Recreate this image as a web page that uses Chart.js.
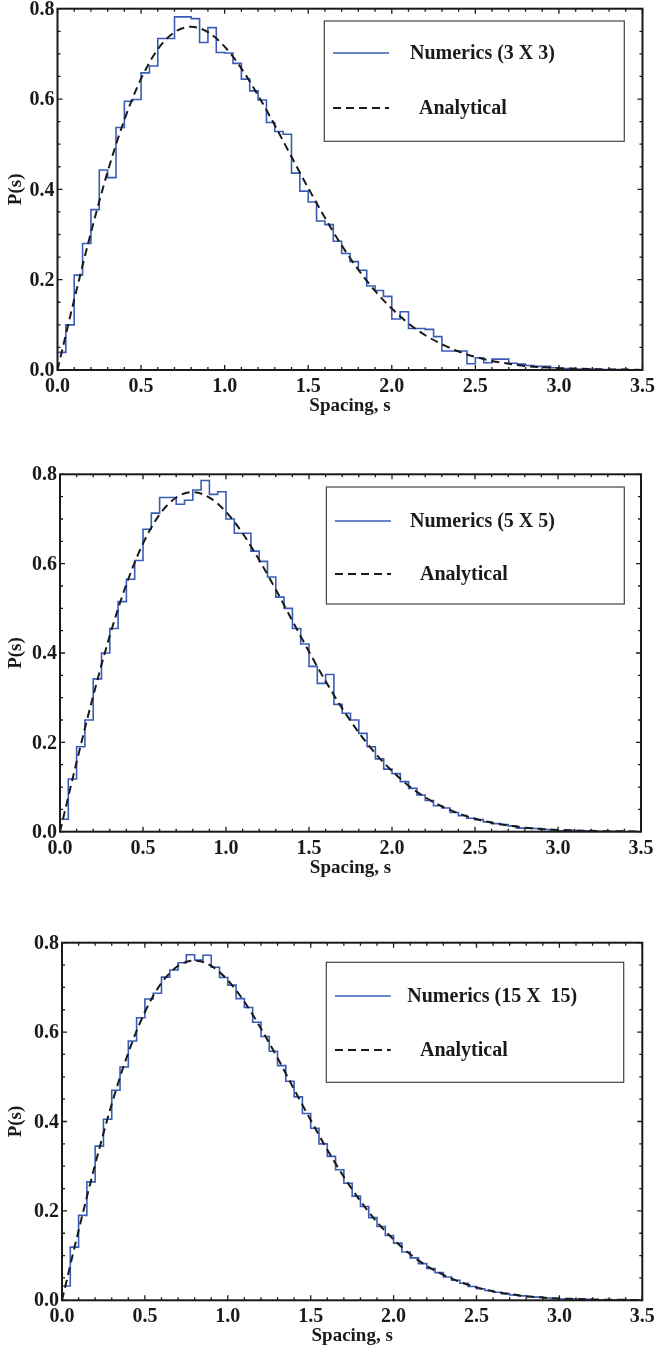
<!DOCTYPE html>
<html>
<head>
<meta charset="utf-8">
<script src="https://cdn.jsdelivr.net/npm/chart.js@4"></script>
<style>
  html, body { margin: 0; padding: 0; background: #fff; }
  body { width: 656px; height: 1355px; position: relative; overflow: hidden; }
  canvas { position: absolute; left: 0; }
</style>
</head>
<body>
<canvas id="c3" width="656" height="450" style="top:0px"></canvas>
<canvas id="c5" width="656" height="470" style="top:450px"></canvas>
<canvas id="c15" width="656" height="435" style="top:920px"></canvas>
<script>
// histogram bins are 0.05 wide, starting at s = 0
const binWidth = 0.05;

const numerics3 = [
  0.039, 0.100, 0.210, 0.280, 0.355, 0.443, 0.426, 0.537, 0.595, 0.599,
  0.658, 0.673, 0.734, 0.734, 0.782, 0.782, 0.778, 0.725, 0.758, 0.703,
  0.702, 0.679, 0.644, 0.618, 0.598, 0.548, 0.528, 0.522, 0.436, 0.396,
  0.372, 0.330, 0.322, 0.285, 0.258, 0.240, 0.221, 0.186, 0.176, 0.163,
  0.113, 0.129, 0.092, 0.092, 0.090, 0.074, 0.042, 0.042, 0.042, 0.014,
  0.027, 0.016, 0.024, 0.024, 0.015, 0.013, 0.010, 0.008, 0.008, 0.005,
  0.003, 0.003, 0.002, 0.002, 0.002, 0.001, 0.001, 0.001, 0.000, 0.000
];

const numerics5 = [
  0.028, 0.118, 0.190, 0.250, 0.342, 0.400, 0.455, 0.515, 0.565, 0.607,
  0.677, 0.713, 0.748, 0.748, 0.733, 0.742, 0.765, 0.786, 0.755, 0.761,
  0.700, 0.668, 0.668, 0.628, 0.605, 0.570, 0.525, 0.500, 0.455, 0.420,
  0.370, 0.332, 0.352, 0.285, 0.265, 0.250, 0.220, 0.190, 0.163, 0.140,
  0.130, 0.112, 0.097, 0.082, 0.070, 0.058, 0.053, 0.043, 0.036, 0.030,
  0.027, 0.022, 0.018, 0.016, 0.013, 0.008, 0.008, 0.007, 0.005, 0.004,
  0.002, 0.003, 0.002, 0.002, 0.001, 0.001, 0.001, 0.001, 0.000, 0.000
];

const numerics15 = [
  0.032, 0.119, 0.190, 0.265, 0.345, 0.405, 0.470, 0.522, 0.580, 0.632,
  0.674, 0.687, 0.723, 0.739, 0.755, 0.773, 0.761, 0.772, 0.745, 0.722,
  0.705, 0.675, 0.655, 0.622, 0.590, 0.557, 0.525, 0.490, 0.455, 0.418,
  0.385, 0.350, 0.322, 0.292, 0.262, 0.233, 0.210, 0.185, 0.165, 0.145,
  0.128, 0.108, 0.095, 0.082, 0.071, 0.062, 0.052, 0.045, 0.038, 0.031,
  0.026, 0.022, 0.018, 0.015, 0.012, 0.010, 0.008, 0.007, 0.005, 0.004,
  0.003, 0.003, 0.002, 0.002, 0.001, 0.001, 0.001, 0.001, 0.000, 0.000
];

const analyticS = [
  0.0, 0.1, 0.2, 0.3, 0.4, 0.5, 0.6, 0.7, 0.8, 0.9,
  1.0, 1.1, 1.2, 1.3, 1.4, 1.5, 1.6, 1.7, 1.8, 1.9,
  2.0, 2.1, 2.2, 2.3, 2.4, 2.5, 2.6, 2.7, 2.8, 2.9,
  3.0, 3.1, 3.2, 3.3, 3.4, 3.5
];
const analyticP = [
  0.000, 0.156, 0.304, 0.439, 0.554, 0.645, 0.710, 0.748, 0.760, 0.748,
  0.716, 0.668, 0.608, 0.542, 0.472, 0.403, 0.337, 0.276, 0.222, 0.175,
  0.136, 0.103, 0.077, 0.057, 0.041, 0.029, 0.020, 0.014, 0.009, 0.006,
  0.004, 0.003, 0.002, 0.001, 0.001, 0.000
];

const xTickLabels = ['0.0', '0.5', '1.0', '1.5', '2.0', '2.5', '3.0', '3.5'];
const yTickLabels = ['0.0', '0.2', '0.4', '0.6', '0.8'];

const blue = '#3a5cb6';
const dark = '#1a1a1a';
const font = '"Liberation Serif", "Times New Roman", serif';

// inward ticks, frame, tick labels, axis titles and the boxed legend
const framePlugin = {
  id: 'frame',
  afterDatasetsDraw(chart, args, opts) {
    const ctx = chart.ctx;
    const a = chart.chartArea;
    const xs = chart.scales.x, ys = chart.scales.y;
    ctx.save();
    ctx.strokeStyle = dark;
    ctx.lineWidth = 1.3;
    ctx.beginPath();
    for (let i = 0; i <= 35; i++) {
      const px = xs.getPixelForValue(i / 10);
      const len = i % 5 === 0 ? 5 : 3;
      ctx.moveTo(px, a.bottom); ctx.lineTo(px, a.bottom - len);
      ctx.moveTo(px, a.top); ctx.lineTo(px, a.top + len);
    }
    for (let i = 0; i <= 16; i++) {
      const py = ys.getPixelForValue(i * 0.05);
      const len = i % 4 === 0 ? 5 : 3;
      ctx.moveTo(a.left, py); ctx.lineTo(a.left + len, py);
      ctx.moveTo(a.right, py); ctx.lineTo(a.right - len, py);
    }
    ctx.stroke();
    ctx.lineWidth = 2;
    ctx.strokeRect(a.left, a.top, a.right - a.left, a.bottom - a.top);

    ctx.fillStyle = dark;
    ctx.font = 'bold 20px ' + font;
    ctx.textAlign = 'right';
    ctx.textBaseline = 'middle';
    yTickLabels.forEach(t => ctx.fillText(t, a.left - 3, ys.getPixelForValue(parseFloat(t)) + 1));
    ctx.textAlign = 'center';
    xTickLabels.forEach(t => ctx.fillText(t, xs.getPixelForValue(parseFloat(t)), a.bottom + 17));

    ctx.font = 'bold 19px ' + font;
    ctx.fillText('Spacing, s', (a.left + a.right) / 2, a.bottom + 36);
    ctx.save();
    ctx.translate(16, (a.top + a.bottom) / 2);
    ctx.rotate(-Math.PI / 2);
    ctx.fillText('P(s)', 0, 0);
    ctx.restore();

    // legend
    const L = opts;
    ctx.strokeStyle = '#444';
    ctx.lineWidth = 1.2;
    ctx.strokeRect(L.box[0], L.box[1], L.box[2] - L.box[0], L.box[3] - L.box[1]);
    const ds = chart.data.datasets;
    ctx.textAlign = 'left';
    ctx.font = 'bold 20px ' + font;
    [0, 1].forEach(k => {
      const d = ds[k];
      const y = L.rows[k];
      ctx.strokeStyle = d.borderColor;
      ctx.lineWidth = d.borderWidth;
      ctx.setLineDash(d.borderDash || []);
      ctx.beginPath();
      ctx.moveTo(L.line[0], y); ctx.lineTo(L.line[1], y);
      ctx.stroke();
      ctx.setLineDash([]);
      ctx.fillText(d.label, L.text[k], y + 1);
    });
    ctx.restore();
  }
};

function makeChart(id, values, label, area, legend) {
  const canvas = document.getElementById(id);
  const histPts = values.map((v, i) => ({ x: i * binWidth, y: v }));
  histPts.push({ x: values.length * binWidth, y: values[values.length - 1] });
  new Chart(canvas, {
    type: 'line',
    data: {
      datasets: [
        {
          label: label,
          data: histPts,
          stepped: 'before',
          borderColor: blue,
          borderWidth: 1.6,
          pointRadius: 0,
          fill: false,
          order: 1
        },
        {
          label: 'Analytical',
          data: analyticS.map((s, i) => ({ x: s, y: analyticP[i] })),
          borderColor: dark,
          borderWidth: 2,
          borderDash: [8, 5],
          pointRadius: 0,
          fill: false,
          cubicInterpolationMode: 'monotone',
          order: 0
        }
      ]
    },
    options: {
      responsive: false,
      animation: false,
      devicePixelRatio: 1,
      layout: {
        padding: {
          left: area[0],
          top: area[1],
          right: canvas.width - area[2],
          bottom: canvas.height - area[3]
        }
      },
      plugins: {
        legend: { display: false },
        tooltip: { enabled: false },
        frame: legend
      },
      scales: {
        x: { type: 'linear', min: 0, max: 3.5, display: false },
        y: { type: 'linear', min: 0, max: 0.8, display: false }
      }
    },
    plugins: [framePlugin]
  });
}

makeChart('c3', numerics3, 'Numerics (3 X 3)', [57.5, 8.7, 642.5, 370],
  { box: [324.3, 21, 624.3, 141.3], line: [333, 389], rows: [53, 108], text: [410, 419] });
makeChart('c5', numerics5, 'Numerics (5 X 5)', [60, 24.3, 641, 381.7],
  { box: [326.4, 37, 624.3, 154], line: [335, 391], rows: [71, 124], text: [410, 420] });
makeChart('c15', numerics15, 'Numerics (15 X  15)', [62, 22.7, 642.3, 380.3],
  { box: [326.3, 42.3, 623.7, 162.3], line: [335, 390.7], rows: [76, 130], text: [407.3, 420] });
</script>
</body>
</html>
